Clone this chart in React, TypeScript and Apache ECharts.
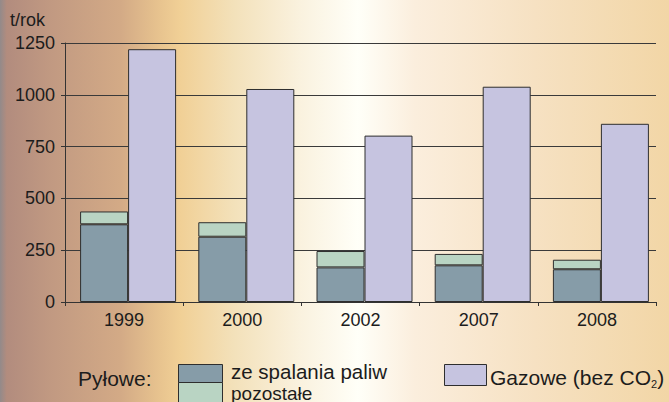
import React, { useEffect, useRef } from "react";
import * as echarts from "echarts";

const years = ["1999", "2000", "2002", "2007", "2008"];
const zeSpalania = [375, 315, 167, 177, 158];
const pozostale = [62, 70, 79, 55, 46];
const gazowe = [1220, 1028, 803, 1039, 860];
const yTicks = { min: 0, max: 1250, interval: 250 };

const C_DARK = "#869ca8";
const C_LIGHT = "#b9d4c3";
const C_GAS = "#c6c4e0";
const C_EDGE = "#2e2e2e";
const C_TEXT = "#1c1c1c";
const FONT = "'Liberation Sans', Arial, sans-serif";

export default function App() {
  const ref = useRef<HTMLDivElement>(null);
  useEffect(() => {
    if (!ref.current) return;
    const chart = echarts.init(ref.current, undefined, { renderer: "svg" });
    const bg = new echarts.graphic.LinearGradient(0, 0, 1, 0, [
      { offset: 0, color: "#938a8a" },
      { offset: 0.01, color: "#b28c7e" },
      { offset: 0.08, color: "#c29a82" },
      { offset: 0.18, color: "#d3aa86" },
      { offset: 0.24, color: "#e8c48f" },
      { offset: 0.27, color: "#f1d096" },
      { offset: 0.35, color: "#f3e1ba" },
      { offset: 0.45, color: "#faf2df" },
      { offset: 0.535, color: "#fffff8" },
      { offset: 0.62, color: "#fbeedd" },
      { offset: 0.8, color: "#f6e1c2" },
      { offset: 1, color: "#f2d6a6" },
    ]);
    const barStyle = (c: string) => ({ color: c, borderColor: C_EDGE, borderWidth: 1 });
    chart.setOption({
      animation: false,
      backgroundColor: bg,
      textStyle: { fontFamily: FONT },
      grid: [
        { left: 65, right: 13, top: 43, bottom: 100 },
        { left: 69, right: 9, top: 43, bottom: 100 },
      ],
      xAxis: [
        {
          type: "category",
          gridIndex: 0,
          data: years,
          axisLine: { show: true, lineStyle: { color: "#333", width: 1 } },
          axisTick: { show: true, length: 4, lineStyle: { color: "#333" } },
          axisLabel: { fontSize: 18, color: C_TEXT, margin: 9, fontFamily: FONT },
        },
        { type: "category", gridIndex: 1, data: years, show: false },
      ],
      yAxis: [
        {
          type: "value",
          gridIndex: 0,
          min: yTicks.min,
          max: yTicks.max,
          interval: yTicks.interval,
          axisLine: { show: true, lineStyle: { color: "#333", width: 1 } },
          axisTick: { show: true, length: 4, lineStyle: { color: "#333" } },
          axisLabel: {
            fontSize: 18,
            color: C_TEXT,
            margin: 10,
            fontFamily: FONT,
            padding: [4, 0, 0, 0],
            formatter: (v: number) => String(v),
          },
          splitLine: { show: true, lineStyle: { color: "#3a3a3a", width: 1 } },
        },
        {
          type: "value",
          gridIndex: 1,
          min: yTicks.min,
          max: yTicks.max,
          interval: yTicks.interval,
          show: false,
          splitLine: { show: false },
        },
      ],
      series: [
        {
          name: "ze spalania paliw",
          type: "bar",
          xAxisIndex: 1,
          yAxisIndex: 1,
          stack: "pyl",
          data: zeSpalania,
          barWidth: 48,
          barGap: "0%",
          itemStyle: barStyle(C_DARK),
        },
        {
          name: "pozostałe",
          type: "bar",
          xAxisIndex: 1,
          yAxisIndex: 1,
          stack: "pyl",
          data: pozostale,
          barWidth: 48,
          barGap: "0%",
          itemStyle: barStyle(C_LIGHT),
        },
        {
          name: "Gazowe (bez CO₂)",
          type: "bar",
          xAxisIndex: 1,
          yAxisIndex: 1,
          data: gazowe,
          barWidth: 48,
          barGap: "0%",
          itemStyle: barStyle(C_GAS),
        },
      ],
      graphic: [
        {
          type: "text",
          left: 10,
          top: 11,
          style: { text: "t/rok", font: `18px ${FONT}`, fill: C_TEXT },
        },
        {
          type: "text",
          x: 78,
          y: 378,
          style: { text: "Pyłowe:", font: `21px ${FONT}`, fill: C_TEXT, verticalAlign: "middle" },
        },
        {
          type: "rect",
          shape: { x: 178.5, y: 364.5, width: 44, height: 18 },
          style: { fill: C_DARK, stroke: C_EDGE, lineWidth: 1 },
        },
        {
          type: "rect",
          shape: { x: 178.5, y: 382.5, width: 44, height: 21 },
          style: { fill: C_LIGHT, stroke: C_EDGE, lineWidth: 1 },
        },
        {
          type: "text",
          x: 231,
          y: 371,
          style: {
            text: "ze spalania paliw",
            font: `20.5px ${FONT}`,
            fill: C_TEXT,
            verticalAlign: "middle",
          },
        },
        {
          type: "text",
          x: 231,
          y: 393,
          style: {
            text: "pozostałe",
            font: `19px ${FONT}`,
            fill: C_TEXT,
            verticalAlign: "middle",
          },
        },
        {
          type: "rect",
          shape: { x: 444.5, y: 364.5, width: 42, height: 21 },
          style: { fill: C_GAS, stroke: C_EDGE, lineWidth: 1 },
        },
        {
          type: "text",
          x: 490,
          y: 377,
          style: {
            text: "Gazowe (bez CO{sub|2}{par|)}",
            font: `21px ${FONT}`,
            fill: C_TEXT,
            verticalAlign: "middle",
            rich: {
              sub: { fontSize: 11, fontFamily: FONT, fill: C_TEXT, padding: [14, 0, 0, 0] },
              par: { fontSize: 21, fontFamily: FONT, fill: C_TEXT },
            },
          },
        },
      ],
    });
    return () => chart.dispose();
  }, []);
  return (
    <div
      ref={ref}
      style={{ position: "absolute", left: 0, top: 0, width: 669, height: 402 }}
    />
  );
}
